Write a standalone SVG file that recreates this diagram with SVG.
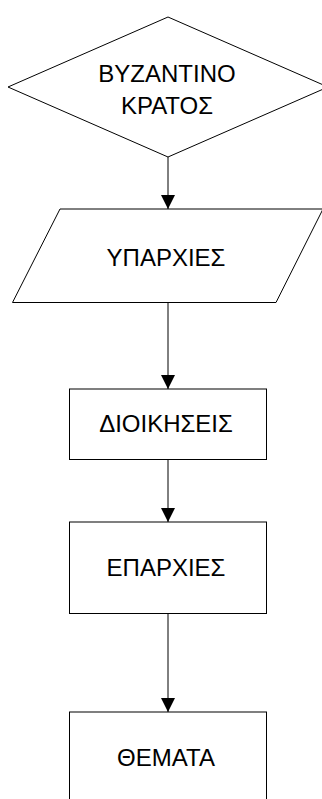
<svg xmlns="http://www.w3.org/2000/svg" width="322" height="799" viewBox="0 0 322 799">
  <style>
    .shape { fill: #ffffff; stroke: #000000; stroke-width: 1; }
    .label { font-family: "Liberation Sans", Arial, sans-serif; font-size: 24px; fill: #000000; text-anchor: middle; }
    .edge { stroke: #000000; stroke-width: 1; fill: none; marker-end: url(#arrow); }
  </style>
  <defs>
    <marker id="arrow" markerUnits="userSpaceOnUse" markerWidth="14" markerHeight="14" viewBox="0 0 14 14" refX="14" refY="7" orient="auto">
      <path d="M0,0 L14,7 L0,14 Z" fill="#000000"/>
    </marker>
  </defs>
  <rect width="322" height="799" fill="#ffffff"/>
  <g id="connectors">
    <line class="edge" x1="168" y1="157" x2="168" y2="209"/>
    <line class="edge" x1="168" y1="302" x2="168" y2="389"/>
    <line class="edge" x1="168" y1="459" x2="168" y2="522"/>
    <line class="edge" x1="168" y1="613.5" x2="168" y2="712"/>
  </g>
  <g id="node-byzantino">
    <polygon class="shape" points="168,17 328,87 168,157 8,87"/>
    <text class="label" x="167" y="82">ΒΥΖΑΝΤΙΝΟ</text>
    <text class="label" x="167" y="113.5">ΚΡΑΤΟΣ</text>
  </g>
  <g id="node-yparxies">
    <polygon class="shape" points="60,209 323,209 276,302.5 12.5,302.5"/>
    <text class="label" x="166" y="266">ΥΠΑΡΧΙΕΣ</text>
  </g>
  <g id="node-dioikiseis">
    <rect class="shape" x="69.5" y="389" width="197" height="70.5"/>
    <text class="label" x="166" y="432">ΔΙΟΙΚΗΣΕΙΣ</text>
  </g>
  <g id="node-eparxies">
    <rect class="shape" x="69.5" y="522" width="197" height="91.5"/>
    <text class="label" x="166" y="576">ΕΠΑΡΧΙΕΣ</text>
  </g>
  <g id="node-themata">
    <rect class="shape" x="69.5" y="712" width="197" height="92"/>
    <text class="label" x="166" y="766">ΘΕΜΑΤΑ</text>
  </g>
</svg>
